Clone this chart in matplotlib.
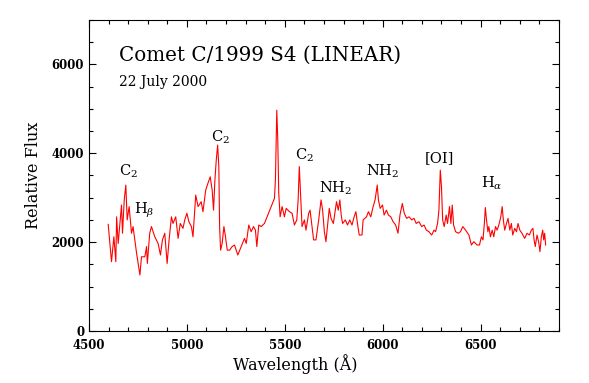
import numpy as np
import matplotlib
matplotlib.use("Agg")
import matplotlib.pyplot as plt
from matplotlib.ticker import MultipleLocator

# spectrum (wavelength in A, relative flux)
wave = [4598, 4615, 4627, 4637, 4641, 4649, 4666, 4671, 4680, 4688,
        4695, 4705, 4717, 4725, 4743, 4760, 4768, 4785, 4794, 4798,
        4810, 4819, 4836, 4853, 4865, 4875, 4887, 4899, 4909, 4921,
        4929, 4943, 4955, 4966, 4980, 4989, 5000, 5010, 5023, 5031,
        5045, 5057, 5073, 5082, 5096, 5107, 5119, 5129, 5136, 5143,
        5150, 5157, 5163, 5167, 5172, 5180, 5189, 5197, 5206, 5218,
        5231, 5243, 5260, 5277, 5294, 5303, 5316, 5328, 5340, 5350,
        5357, 5367, 5379, 5396, 5447, 5452, 5459, 5464, 5469, 5476,
        5486, 5498, 5507, 5524, 5537, 5549, 5561, 5568, 5574, 5581,
        5588, 5600, 5608, 5622, 5629, 5639, 5647, 5659, 5673, 5685,
        5693, 5702, 5710, 5719, 5727, 5736, 5748, 5758, 5764, 5773,
        5781, 5788, 5795, 5809, 5820, 5832, 5843, 5854, 5863, 5871,
        5880, 5894, 5900, 5917, 5927, 5939, 5951, 5961, 5972, 5978,
        5987, 5999, 6007, 6019, 6029, 6041, 6053, 6066, 6078, 6088,
        6100, 6110, 6122, 6134, 6148, 6160, 6171, 6185, 6199, 6211,
        6223, 6236, 6250, 6262, 6270, 6280, 6287, 6294, 6300, 6306,
        6314, 6324, 6331, 6341, 6348, 6355, 6362, 6372, 6386, 6397,
        6409, 6423, 6440, 6453, 6465, 6482, 6494, 6504, 6512, 6519,
        6524, 6530, 6537, 6542, 6550, 6559, 6567, 6576, 6584, 6593,
        6603, 6610, 6616, 6623, 6632, 6640, 6649, 6657, 6664, 6674,
        6683, 6691, 6700, 6711, 6725, 6737, 6749, 6759, 6767, 6773,
        6779, 6788, 6796, 6803, 6810, 6817, 6822, 6827, 6832]
flux = [2400, 1560, 2120, 1560, 2570, 1970, 2835, 2200, 2950, 3285,
        2500, 2800, 2200, 2350, 1750, 1260, 1670, 1670, 1900, 1520,
        2200, 2350, 2120, 1970, 1710, 2050, 2200, 1520, 2050, 2570,
        2420, 2570, 2085, 2420, 2310, 2500, 2650, 2460, 2350, 2120,
        3060, 2800, 2910, 2685, 3170, 3320, 3470, 3170, 2720, 3400,
        3850, 4185, 3700, 2350, 1820, 1970, 2350, 2120, 1820, 1820,
        1900, 1935, 1710, 1900, 2085, 1970, 2385, 2235, 2350, 2270,
        1900, 2385, 2350, 2420, 2985, 3400, 4970, 4300, 3100, 2570,
        2800, 2570, 2760, 2685, 2650, 2385, 2500, 2950, 3700, 3020,
        2350, 2500, 2270, 2650, 2720, 2350, 2050, 2050, 2500, 2950,
        2720, 2235, 2010, 2420, 2760, 2535, 2420, 2720, 2910, 2720,
        2950, 2610, 2420, 2500, 2385, 2500, 2385, 2570, 2685, 2420,
        2160, 2160, 2500, 2570, 2685, 2570, 2800, 2950, 3285, 2950,
        2760, 2835, 2610, 2720, 2610, 2570, 2460, 2385, 2200, 2610,
        2870, 2650, 2535, 2570, 2500, 2535, 2420, 2460, 2350, 2385,
        2270, 2235, 2160, 2270, 2235, 2420, 2720, 3620, 3250, 2500,
        2350, 2610, 2420, 2800, 2420, 2835, 2385, 2235, 2200, 2235,
        2350, 2270, 2160, 1935, 2010, 1935, 1935, 2120, 2050, 2420,
        2780, 2500, 2235, 2350, 2120, 2270, 2120, 2350, 2270, 2385,
        2570, 2800, 2500, 2270, 2420, 2535, 2270, 2420, 2160, 2310,
        2235, 2420, 2270, 2200, 2085, 2200, 2160, 2270, 2310, 2050,
        1900, 2160, 2010, 1785, 2120, 2270, 2050, 2200, 1935]

# line identifications
etiquettes = [r"C$_2$", r"H$_\beta$", r"C$_2$", r"C$_2$", r"NH$_2$",
              r"NH$_2$", "[OI]", r"H$_\alpha$"]
lab_x = [4703, 4780, 5172, 5600, 5758, 5997, 6292, 6555]
lab_y = [3600, 2720, 4365, 3960, 3220, 3600, 3890, 3330]

plt.rcParams["font.family"] = "DejaVu Serif"
plt.rcParams["mathtext.fontset"] = "dejavuserif"

fig = plt.figure(figsize=(5.89, 3.83), dpi=100)
ax = fig.add_axes([0.1511, 0.1358, 0.949 - 0.1511, 0.9478 - 0.1358])

ax.plot(np.array(wave), np.array(flux), color="#ff0000", lw=0.8)

for t, x, y in zip(etiquettes, lab_x, lab_y):
    ax.text(x, y, t, ha="center", va="center", fontsize=10.5)

ax.text(0.063, 0.885, "Comet C/1999 S4 (LINEAR)", transform=ax.transAxes,
        fontsize=14.3, va="center", ha="left")
ax.text(0.063, 0.80, "22 July 2000", transform=ax.transAxes,
        fontsize=10, va="center", ha="left")

ax.set_xlim(4500, 6900)
ax.set_ylim(0, 7000)
ax.xaxis.set_major_locator(MultipleLocator(500))
ax.xaxis.set_minor_locator(MultipleLocator(100))
ax.yaxis.set_major_locator(MultipleLocator(2000))
ax.yaxis.set_minor_locator(MultipleLocator(500))
ax.tick_params(which="both", direction="in", top=True, right=True, width=0.8)
ax.tick_params(which="major", length=5)
ax.tick_params(which="minor", length=3)
ax.tick_params(axis="x", pad=6)
for lab in ax.get_xticklabels() + ax.get_yticklabels():
    lab.set_fontsize(8.5)
    lab.set_fontweight("bold")
for s in ax.spines.values():
    s.set_linewidth(0.8)

ax.set_xlabel("Wavelength (Å)", fontsize=11.5, labelpad=4)
ax.xaxis.set_label_coords(0.438, -0.075)
ax.set_ylabel("Relative Flux", fontsize=11.5, labelpad=7)

fig.savefig("out.png", dpi=100)
